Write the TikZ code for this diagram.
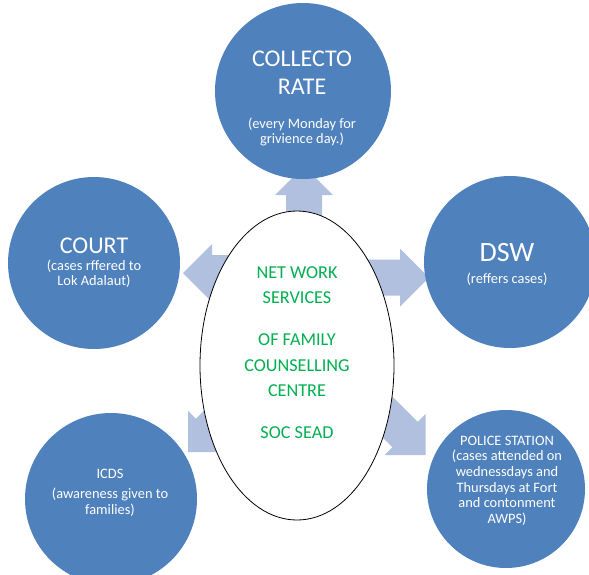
\documentclass[tikz,border=0pt]{standalone}
\usepackage{fontspec}
\setmainfont{Carlito}
\usetikzlibrary{shapes.geometric,backgrounds}
\definecolor{bubbleblue}{RGB}{79,129,189}
\definecolor{arrowblue}{RGB}{176,192,222}
\definecolor{hubgreen}{RGB}{0,176,80}
% block arrow: tip, direction, length
\newcommand{\blockarrow}[3]{\fill[arrowblue,shift={(#1)},rotate=#2] (0,0) -- (-29,-29) -- (-29,-18) -- (-#3,-18) -- (-#3,18) -- (-29,18) -- (-29,29) -- cycle;}

\begin{document}
\begin{tikzpicture}[x=1pt,y=-1pt,
	bubble/.style={circle,fill=bubbleblue,inner sep=0pt},
	hub/.style={ellipse,draw=black,line width=0.8pt,fill=white,inner sep=0pt,minimum width=194pt,minimum height=309pt},
	bubbletext/.style={text=white,align=center,inner sep=0pt},
	hubtext/.style={text=hubgreen,align=center,inner sep=0pt,font=\fontsize{18.2}{25.3}\selectfont}]
			\useasboundingbox (0,0) rectangle (589,574);
			% outer circles
			\node[bubble,minimum size=176pt] (collectorate) at (303,91) {};
			\node[bubble,minimum size=172pt] (court) at (94,263) {};
			\node[bubble,minimum size=172pt] (dsw) at (510,262) {};
			\node[bubble,minimum size=172pt] (icds) at (111,499) {};
			\node[bubble,minimum size=158pt] (police) at (506,489) {};
			\node[bubbletext,font=\fontsize{24}{28}\selectfont] (collectoratetitle) at (302,73) {COLLECTO\\RATE};
			\node[bubbletext,font=\fontsize{14.4}{15}\selectfont] (collectoratenote) at (302,132) {(every Monday for\\grivience day.)};
			\node[bubbletext,font=\fontsize{24}{28}\selectfont] (courttitle) at (94,245.5) {COURT};
			\node[bubbletext,font=\fontsize{14.4}{15}\selectfont] (courtnote) at (94,273.5) {(cases rffered to\\Lok Adalaut)};
			\node[bubbletext,font=\fontsize{28}{32}\selectfont] (dswtitle) at (507,252.5) {DSW};
			\node[bubbletext,font=\fontsize{14.4}{15}\selectfont] (dswnote) at (507,279) {(reffers cases)};
			\node[bubbletext,font=\fontsize{14.4}{16}\selectfont] (icdstext) at (110,492.4) {ICDS\\[4pt](awareness given to\\families)};
			\node[bubbletext,font=\fontsize{14.4}{15.6}\selectfont] (policetext) at (507,480.7) {POLICE STATION\\(cases attended on\\wednessdays and\\Thursdays at Fort\\and contonment\\AWPS)};
			% centre
			\node[hub] (centre) at (297,365.5) {};
			\node[hubtext] (centretext) at (297,352.6) {NET WORK\\SERVICES\\[17pt]OF FAMILY\\COUNSELLING\\CENTRE\\[17pt]SOC SEAD};
			% arrow tips
			\coordinate (uptip) at (304,166);
			\coordinate (lefttip) at (183,273);
			\coordinate (righttip) at (429,277.5);
			\coordinate (lowlefttip) at (188,452);
			\coordinate (lowrighttip) at (425.5,455);
			\begin{scope}[on background layer]
			\blockarrow{uptip}{90}{134}
			\blockarrow{lefttip}{180}{77}
			\blockarrow{righttip}{0}{99}
			\blockarrow{lowlefttip}{225}{80}
			\blockarrow{lowrighttip}{-45}{80}
			\end{scope}
		\end{tikzpicture}
\end{document}
